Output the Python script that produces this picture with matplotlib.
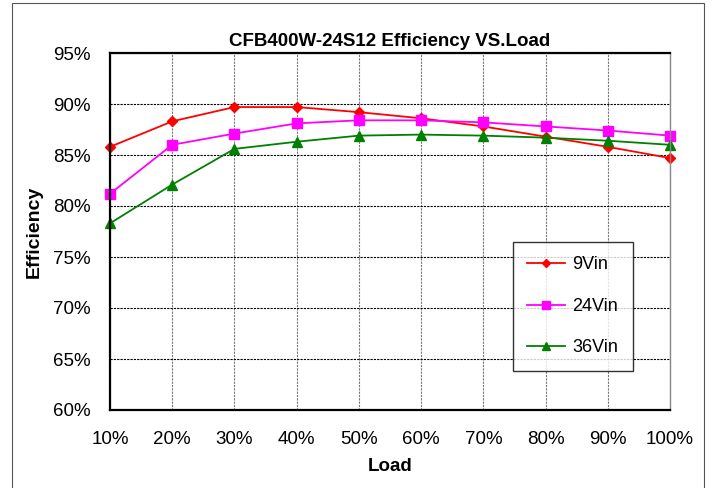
import numpy as np
import matplotlib
matplotlib.use("Agg")
import matplotlib.pyplot as plt
from matplotlib.patches import Rectangle
from matplotlib.ticker import FuncFormatter

plt.rcParams["font.family"] = ["Liberation Sans", "DejaVu Sans"]

load = [10, 20, 30, 40, 50, 60, 70, 80, 90, 100]
eff_9vin = [85.8, 88.3, 89.7, 89.7, 89.2, 88.6, 87.8, 86.8, 85.8, 84.7]
eff_24vin = [81.2, 86.0, 87.1, 88.1, 88.4, 88.4, 88.2, 87.8, 87.4, 86.9]
eff_36vin = [78.3, 82.1, 85.6, 86.3, 86.9, 87.0, 86.9, 86.7, 86.4, 86.0]

fig = plt.figure(figsize=(7.12, 4.88), dpi=100)
ax = fig.add_axes([110 / 712, 78 / 488, 560 / 712, 357 / 488])

# thin grey frame around the whole chart
fig.patches.append(Rectangle((12 / 712, -0.05), 692 / 712, 1.05 - 3 / 488,
                             transform=fig.transFigure, fill=False,
                             edgecolor="#555555", linewidth=0.8))

ax.plot(load, eff_9vin, color="red", marker="D", markersize=5,
        linewidth=1.3, label="9Vin", clip_on=False)
ax.plot(load, eff_24vin, color="magenta", marker="s", markersize=7,
        linewidth=1.3, label="24Vin", clip_on=False)
ax.plot(load, eff_36vin, color="green", marker="^", markersize=7,
        linewidth=1.3, label="36Vin", clip_on=False)

ax.set_xlim(10, 100)
ax.set_ylim(60, 95)
ax.set_xticks(load)
ax.set_yticks(np.arange(60, 96, 5))
pct = FuncFormatter(lambda v, p: f"{v:.0f}%")
ax.xaxis.set_major_formatter(pct)
ax.yaxis.set_major_formatter(pct)
ax.tick_params(length=0, labelsize=13.5)
ax.tick_params(axis="y", pad=14)
ax.tick_params(axis="x", pad=15)

ax.xaxis.grid(True, color="#777777", linestyle=(0, (2, 1)), linewidth=0.8)
ax.yaxis.grid(True, color="black", linestyle=(0, (2, 1)), linewidth=0.8)
ax.set_axisbelow(True)

for side in ["left", "top", "bottom"]:
    ax.spines[side].set_linewidth(1.6)
ax.spines["right"].set_color("#888888")
ax.spines["right"].set_linewidth(1.0)

ax.set_title("CFB400W-24S12 Efficiency VS.Load", fontsize=13.5,
             fontweight="bold", pad=5)
ax.set_xlabel("Load", fontsize=13.5, fontweight="bold", labelpad=7)
ax.set_ylabel("Efficiency", fontsize=14, fontweight="bold", labelpad=7)

leg = ax.legend(loc="upper left", bbox_to_anchor=(403 / 560, 168 / 357),
                fontsize=13, frameon=True, fancybox=False, shadow=False,
                edgecolor="black", labelspacing=1.35, handlelength=2.1,
                handletextpad=0.4, markerscale=0.75,
                borderpad=0.8, borderaxespad=0)
leg.get_frame().set_linewidth(1.0)

fig.savefig("out.png", dpi=100)
